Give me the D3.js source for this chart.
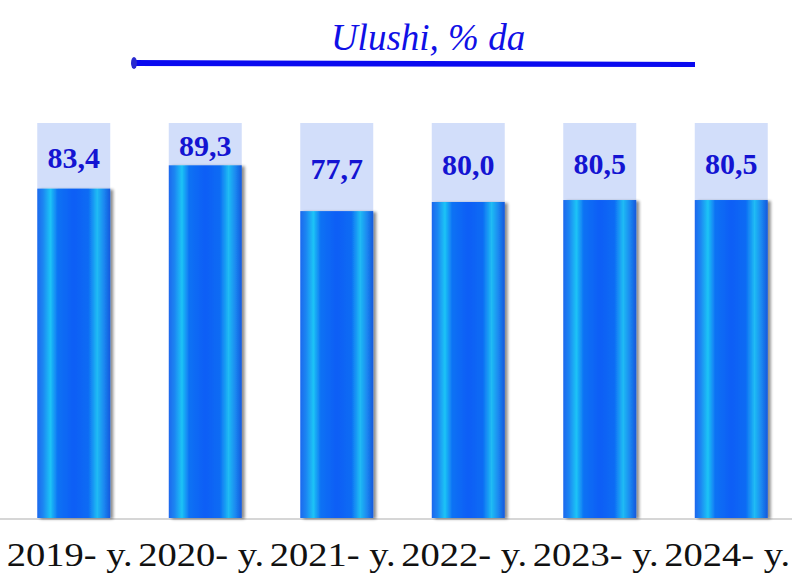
<!DOCTYPE html>
<html>
<head>
<meta charset="utf-8">
<script src="https://cdn.jsdelivr.net/npm/d3@7"></script>
<style>
  body { margin: 0; background: #fff; }
</style>
</head>
<body>
<div id="chart"></div>
<script>
const years = ["2019- y.", "2020- y.", "2021- y.", "2022- y.", "2023- y.", "2024- y."];
const shares = [83.4, 89.3, 77.7, 80.0, 80.5, 80.5];
const title = "Ulushi, % da";

const width = 792, height = 578;
const baseY = 518, topY = 123;

const svg = d3.select("#chart")
  .append("svg")
  .attr("width", width)
  .attr("height", height);

const defs = svg.append("defs");

// bar gradient (cylinder look)
const grad = defs.append("linearGradient")
  .attr("id", "barGrad")
  .attr("x1", "0%").attr("x2", "100%")
  .attr("y1", "0%").attr("y2", "0%");
[
  [0, "#1a68ee"], [8, "#1c86f2"], [18, "#1cc4f6"], [28, "#0f72f4"],
  [50, "#0a5ef6"], [70, "#0d6cf4"], [82, "#20bcf4"], [92, "#1a84f0"], [100, "#1558dc"]
].forEach(s => grad.append("stop").attr("offset", s[0] + "%").attr("stop-color", s[1]));

const shadow = defs.append("filter").attr("id", "shadow")
  .attr("x", "-20%").attr("y", "-5%").attr("width", "140%").attr("height", "110%");
shadow.append("feGaussianBlur").attr("in", "SourceAlpha").attr("stdDeviation", 1.5);
shadow.append("feOffset").attr("dx", 3).attr("dy", 1).attr("result", "off");
shadow.append("feComponentTransfer").append("feFuncA").attr("type", "linear").attr("slope", 0.45);
const merge = shadow.append("feMerge");
merge.append("feMergeNode");
merge.append("feMergeNode").attr("in", "SourceGraphic");

const x = d3.scaleBand()
  .domain(years)
  .range([8, 797])
  .paddingInner(0.445)
  .paddingOuter(0.2225);

const y = d3.scaleLinear()
  .domain([0, 100])
  .range([baseY, topY]);

/* ------------------ title ------------------ */
svg.append("text")
  .attr("x", 428)
  .attr("y", 50)
  .attr("text-anchor", "middle")
  .style("font-family", "'Liberation Serif', 'Times New Roman', serif")
  .style("font-style", "italic")
  .style("font-size", "37px")
  .style("fill", "#1010e6")
  .text(title);

svg.append("path")
  .attr("d", "M132,60 L695,62 L695,67 L132,66 Z")
  .style("fill", "#0a0af0");
svg.append("ellipse")
  .attr("cx", 134).attr("cy", 63)
  .attr("rx", 3).attr("ry", 6)
  .style("fill", "#2a2ad0");

/* ------------------ baseline ------------------ */
svg.append("line")
  .attr("x1", 0).attr("x2", width)
  .attr("y1", baseY + 1).attr("y2", baseY + 1)
  .style("stroke", "#c8c8c8")
  .style("stroke-width", 1.5);

/* ------------------ bars ------------------ */
const g = svg.selectAll(".bar")
  .data(shares)
  .enter()
  .append("g")
  .attr("class", "bar");

g.append("rect")
  .attr("x", (d, i) => x(years[i]))
  .attr("y", y(100))
  .attr("width", x.bandwidth())
  .attr("height", d => y(d) - y(100))
  .style("fill", "#d2defa");

g.append("rect")
  .attr("x", (d, i) => x(years[i]))
  .attr("y", d => y(d))
  .attr("width", x.bandwidth())
  .attr("height", d => baseY - y(d))
  .attr("filter", "url(#shadow)")
  .style("fill", "url(#barGrad)");

g.append("text")
  .attr("x", (d, i) => x(years[i]) + x.bandwidth() / 2)
  .attr("y", d => y((100 + d) / 2) + 12)
  .attr("text-anchor", "middle")
  .style("font-family", "'Liberation Serif', 'Times New Roman', serif")
  .style("font-weight", "bold")
  .style("font-size", "30px")
  .style("fill", "#1414d2")
  .text(d => d.toFixed(1).replace(".", ","));

/* ------------------ x axis labels ------------------ */
svg.selectAll(".xl")
  .data(years)
  .enter()
  .append("text")
  .attr("class", "xl")
  .attr("x", d => x(d) + x.bandwidth() / 2 - 4)
  .attr("y", 566)
  .attr("text-anchor", "middle")
  .attr("textLength", 126)
  .attr("lengthAdjust", "spacingAndGlyphs")
  .style("font-family", "'Liberation Serif', 'Times New Roman', serif")
  .style("font-size", "33px")
  .style("fill", "#111")
  .text(d => d);
</script>
</body>
</html>
